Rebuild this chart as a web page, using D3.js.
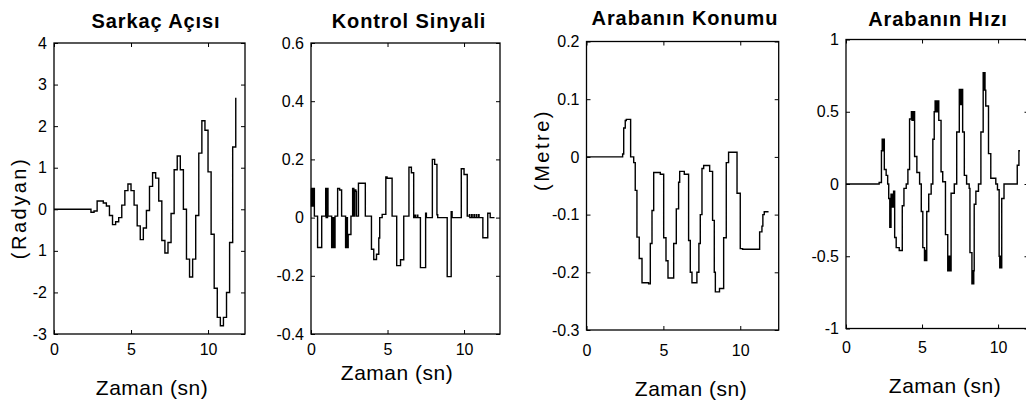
<!DOCTYPE html>
<html>
<head>
<meta charset="utf-8">
<script src="https://cdn.jsdelivr.net/npm/d3@7"></script>
<style>
  html, body { margin: 0; padding: 0; background: #fff; }
  svg { display: block; }
  text { font-family: "Liberation Sans", Arial, Helvetica, sans-serif; fill: #000; }
</style>
</head>
<body>
<svg id="chart" width="1026" height="406"></svg>
<script>
// ---- Data --------------------------------------------------------------
// Pendulum angle (rad), sampled every 0.2 s starting at t = 0
const angleStep = 0.2;
const angleValues = [
  0, 0, 0, 0, 0, 0, 0, 0, 0, 0, 0, 0,
  -0.07, -0.04, 0.2, 0.2, 0.15, 0.08, -0.15, -0.37, -0.3, -0.2,
  0.1, 0.45, 0.61, 0.45, 0.1, -0.4, -0.73, -0.45, -0.03, 0.55,
  0.88, 0.75, 0.2, -0.75, -1.05, -0.8, -0.1, 0.95, 1.28, 0.95,
  0.0, -1.2, -1.63, -1.2, -0.15, 1.35, 2.13, 1.9, 0.9, -0.6,
  -1.9, -2.6, -2.8, -2.6, -2.0, -0.8, 1.5, 2.68
];

// Control signal: switching instants (s) and the level held from each one
const ctrlTime = [
  0, 0.03, 0.06, 0.09, 0.12, 0.15, 0.18, 0.22, 0.43, 0.70,
  0.96, 0.99, 1.02, 1.05, 1.08, 1.11, 1.35, 1.38, 1.41, 1.44,
  1.47, 1.50, 1.53, 1.57, 1.74, 1.87, 2.0, 2.26, 2.29, 2.32,
  2.35, 2.38, 2.43, 2.61, 2.72, 2.80, 2.86, 2.93, 2.97, 3.1,
  3.55, 3.95, 4.1, 4.28, 4.43, 4.49, 4.65, 4.89, 4.97, 5.3,
  5.6, 5.85, 6.06, 6.40, 6.56, 6.71, 6.8, 6.83, 6.95, 6.98,
  7.15, 7.49, 7.54, 7.93, 8.08, 8.23, 8.28, 8.9, 9.16, 9.22,
  9.82, 10.0, 10.21, 10.35, 10.38, 10.5, 10.53, 10.65, 10.68, 10.8,
  10.83, 10.95, 10.98, 11.23, 11.55, 11.71, 11.99
];
const ctrlValue = [
  0.1, 0.04, 0.1, 0.04, 0.1, 0.04, 0.1, 0.005, -0.103, 0.005,
  0.1, 0.0, 0.1, 0.0, 0.1, 0.005, -0.103, 0.0, -0.103, 0.0,
  -0.103, 0.0, -0.103, 0.005, 0.1, 0.095, 0.005, -0.103, 0.0, -0.103,
  0.0, -0.103, -0.058, 0.005, 0.1, 0.005, 0.095, 0.09, 0.005, 0.118,
  0.005, -0.109, -0.144, -0.126, -0.07, 0.0, 0.011, 0.14, 0.135, 0.005,
  -0.165, -0.145, 0.005, 0.173, 0.154, 0.0, 0.008, 0.0, 0.008, 0.0,
  -0.172, 0.015, 0.0, 0.2, 0.183, 0.01, 0.0, -0.203, 0.02, 0.0,
  0.168, 0.148, 0.005, 0.01, 0.0, 0.01, 0.0, 0.01, 0.0, 0.01,
  0.0, 0.01, 0.0, -0.069, 0.015, 0.0, 0.0
];

// Cart position (m): change instants and held values
const posTime = [
  0, 2.35, 2.42, 2.52, 2.59, 2.87, 3.07, 3.17, 3.28, 3.43,
  3.61, 4.04, 4.15, 4.26, 4.37, 4.8, 5.02, 5.17, 5.3, 5.67,
  5.84, 5.99, 6.06, 6.36, 6.64, 6.75, 6.86, 7.18, 7.31, 7.40,
  7.51, 7.62, 8.01, 8.2, 8.31, 8.38, 8.65, 8.92, 9.09, 9.24,
  9.79, 10.0, 10.15, 11.26, 11.41, 11.47, 11.56, 11.84
];
const posValue = [
  0, 0.005, 0.05, 0.063, 0.065, 0, -0.01, -0.058, -0.139, -0.176,
  -0.218, -0.22, -0.15, -0.093, -0.027, -0.03, -0.14, -0.18, -0.21, -0.15,
  -0.09, -0.044, -0.025, -0.03, -0.145, -0.2, -0.218, -0.2, -0.15, -0.1,
  -0.02, -0.015, -0.025, -0.11, -0.2, -0.234, -0.228, -0.14, -0.01, 0.008,
  -0.063, -0.159, -0.16, -0.13, -0.12, -0.1, -0.095, -0.095
];

// Cart velocity (m/s): change instants and held values
const velTime = [
  0, 2.18, 2.33, 2.38, 2.41, 2.44, 2.52, 2.64, 2.74, 2.81,
  2.88, 2.96, 3.0, 3.04, 3.08, 3.13, 3.2, 3.3, 3.5, 3.7,
  3.81, 3.96, 4.07, 4.18, 4.3, 4.34, 4.38, 4.42, 4.46, 4.51,
  4.66, 4.84, 4.95, 5.05, 5.16, 5.2, 5.24, 5.31, 5.44, 5.6,
  5.71, 5.8, 5.86, 5.9, 5.94, 5.98, 6.02, 6.10, 6.25, 6.36,
  6.54, 6.69, 6.73, 6.77, 6.81, 6.85, 6.91, 7.12, 7.28, 7.45,
  7.49, 7.53, 7.57, 7.61, 7.67, 7.78, 7.93, 8.10, 8.15, 8.28,
  8.32, 8.36, 8.40, 8.43, 8.54, 8.71, 8.87, 9.02, 9.06, 9.10,
  9.14, 9.19, 9.37, 9.52, 9.85, 9.96, 10.07, 10.11, 10.15, 10.19,
  10.24, 10.39, 11.26, 11.37, 11.44
];
const velValue = [
  0, 0.01, 0.23, 0.31, 0.23, 0.31, 0.1, 0.06, 0.0, -0.1,
  -0.3, -0.07, -0.16, -0.07, -0.16, -0.05, -0.37, -0.44, -0.46, -0.15,
  -0.03, 0.0, 0.1, 0.45, 0.5, 0.44, 0.5, 0.44, 0.5, 0.19,
  0.08, 0.0, -0.19, -0.44, -0.53, -0.46, -0.53, -0.19, -0.07, 0.0,
  0.31, 0.5, 0.575, 0.5, 0.575, 0.5, 0.575, 0.44, 0.085, 0.016,
  -0.35, -0.6, -0.5, -0.6, -0.5, -0.6, -0.064, 0.0, 0.36, 0.655,
  0.55, 0.655, 0.55, 0.655, 0.36, 0.06, 0.0, -0.03, -0.475, -0.69,
  -0.6, -0.69, -0.6, -0.14, -0.05, 0.0, 0.36, 0.77, 0.65, 0.77,
  0.65, 0.54, 0.21, 0.04, 0.0, -0.04, -0.5, -0.58, -0.5, -0.58,
  -0.1, 0.0, 0.13, 0.23, 0.23
];

// Tick values and their printed labels
const xTicks = [0, 5, 10];
const xTickLabels = ["0", "5", "10"];
const angleTicks = [4, 3, 2, 1, 0, -1, -2, -3];
const angleTickLabels = ["4", "3", "2", "1", "0", "1", "-2", "-3"];
const ctrlTicks = [0.6, 0.4, 0.2, 0, -0.2, -0.4];
const ctrlTickLabels = ["0.6", "0.4", "0.2", "0", "-0.2", "-0.4"];
const posTicks = [0.2, 0.1, 0, -0.1, -0.2, -0.3];
const posTickLabels = ["0.2", "0.1", "0", "-0.1", "-0.2", "-0.3"];
const velTicks = [1, 0.5, 0, -0.5, -1];
const velTickLabels = ["1", "0.5", "0", "-0.5", "-1"];

const titles = ["Sarkaç Açısı", "Kontrol Sinyali", "Arabanın Konumu", "Arabanın Hızı"];
const xLabel = "Zaman (sn)";
const yLabels = ["(Radyan)", null, "(Metre)", null];

// ---- Series assembled as {t, v} points ---------------------------------
const angleSeries = angleValues.map((v, i) => ({ t: i * angleStep, v }));
const ctrlSeries = ctrlTime.map((t, i) => ({ t, v: ctrlValue[i] }));
const posSeries = posTime.map((t, i) => ({ t, v: posValue[i] }));
const velSeries = velTime.map((t, i) => ({ t, v: velValue[i] }));

// ---- Layout of the four axes boxes -------------------------------------
const panels = [
  { series: angleSeries, yDomain: [-3, 4], xMax: 12.4, yTicks: angleTicks, yTickLabels: angleTickLabels,
    left: 54, top: 43, width: 191, height: 291,
    titleX: 156, titleY: 28, xLabelX: 152, xLabelY: 395, tickY: 355,
    yLabelX: 26, yLabelY: 208 },
  { series: ctrlSeries, yDomain: [-0.4, 0.6], xMax: 12.35, yTicks: ctrlTicks, yTickLabels: ctrlTickLabels,
    left: 311, top: 43, width: 189, height: 291,
    titleX: 409, titleY: 28, xLabelX: 397, xLabelY: 380, tickY: 355 },
  { series: posSeries, yDomain: [-0.3, 0.2], xMax: 12.5, yTicks: posTicks, yTickLabels: posTickLabels,
    left: 586.5, top: 41.5, width: 192.2, height: 288.5,
    titleX: 685, titleY: 25, xLabelX: 691, xLabelY: 396, tickY: 356,
    yLabelX: 549, yLabelY: 150 },
  { series: velSeries, yDomain: [-1, 1], xMax: 12, yTicks: velTicks, yTickLabels: velTickLabels,
    left: 846, top: 39.5, width: 182.5, height: 289,
    titleX: 938, titleY: 26, xLabelX: 945, xLabelY: 393, tickY: 353 }
];

const svg = d3.select("#chart");
const TICK_LEN = 4;
const tickFont = 16;

panels.forEach((p, idx) => {
  const x = d3.scaleLinear().domain([0, p.xMax]).range([p.left, p.left + p.width]);
  const y = d3.scaleLinear().domain(p.yDomain).range([p.top + p.height, p.top]);
  const g = svg.append("g");

  // inward ticks on all four sides
  const styleAxis = sel => {
    sel.select(".domain").remove();
    sel.selectAll(".tick line").attr("stroke", "#000").attr("stroke-width", 1);
  };
  g.append("g").attr("transform", `translate(${p.left},0)`)
    .call(d3.axisLeft(y).tickValues(p.yTicks).tickSize(-TICK_LEN).tickPadding(7)
      .tickFormat((d, i) => p.yTickLabels[i]))
    .call(styleAxis)
    .call(sel => sel.selectAll("text")
      .attr("font-size", tickFont).attr("font-family", null).attr("fill", "#000"));
  g.append("g").attr("transform", `translate(${p.left + p.width},0)`)
    .call(d3.axisRight(y).tickValues(p.yTicks).tickSize(-TICK_LEN).tickFormat(""))
    .call(styleAxis);
  g.append("g").attr("transform", `translate(0,${p.top})`)
    .call(d3.axisTop(x).tickValues(xTicks).tickSize(-TICK_LEN).tickFormat(""))
    .call(styleAxis);
  const bottomAxis = g.append("g").attr("transform", `translate(0,${p.top + p.height})`)
    .call(d3.axisBottom(x).tickValues(xTicks).tickSize(-TICK_LEN).tickFormat((d, i) => xTickLabels[i]))
    .call(styleAxis);
  bottomAxis.selectAll("text")
    .attr("font-size", tickFont).attr("font-family", null).attr("fill", "#000")
    .attr("dy", null).attr("y", p.tickY - (p.top + p.height));

  // frame
  g.append("rect")
    .attr("x", p.left).attr("y", p.top)
    .attr("width", p.width).attr("height", p.height)
    .attr("fill", "none").attr("stroke", "#000").attr("stroke-width", 1.3);

  // staircase trace
  const line = d3.line().curve(d3.curveStepAfter)
    .x(d => x(d.t)).y(d => y(d.v));
  g.append("path").datum(p.series)
    .attr("d", line)
    .attr("fill", "none").attr("stroke", "#000")
    .attr("stroke-width", 1.4).attr("stroke-linejoin", "miter");

  // title
  g.append("text").attr("x", p.titleX).attr("y", p.titleY)
    .attr("text-anchor", "middle").attr("font-weight", "bold")
    .attr("font-size", 20).attr("letter-spacing", 0.9).text(titles[idx]);

  // x label
  g.append("text").attr("x", p.xLabelX).attr("y", p.xLabelY)
    .attr("text-anchor", "middle").attr("font-size", 21)
    .attr("letter-spacing", 0.5).text(xLabel);

  // y label
  if (yLabels[idx]) {
    g.append("text")
      .attr("transform", `translate(${p.yLabelX},${p.yLabelY}) rotate(-90)`)
      .attr("text-anchor", "middle").attr("font-size", 20)
      .attr("letter-spacing", 2.5).text(yLabels[idx]);
  }
});
</script>
</body>
</html>
